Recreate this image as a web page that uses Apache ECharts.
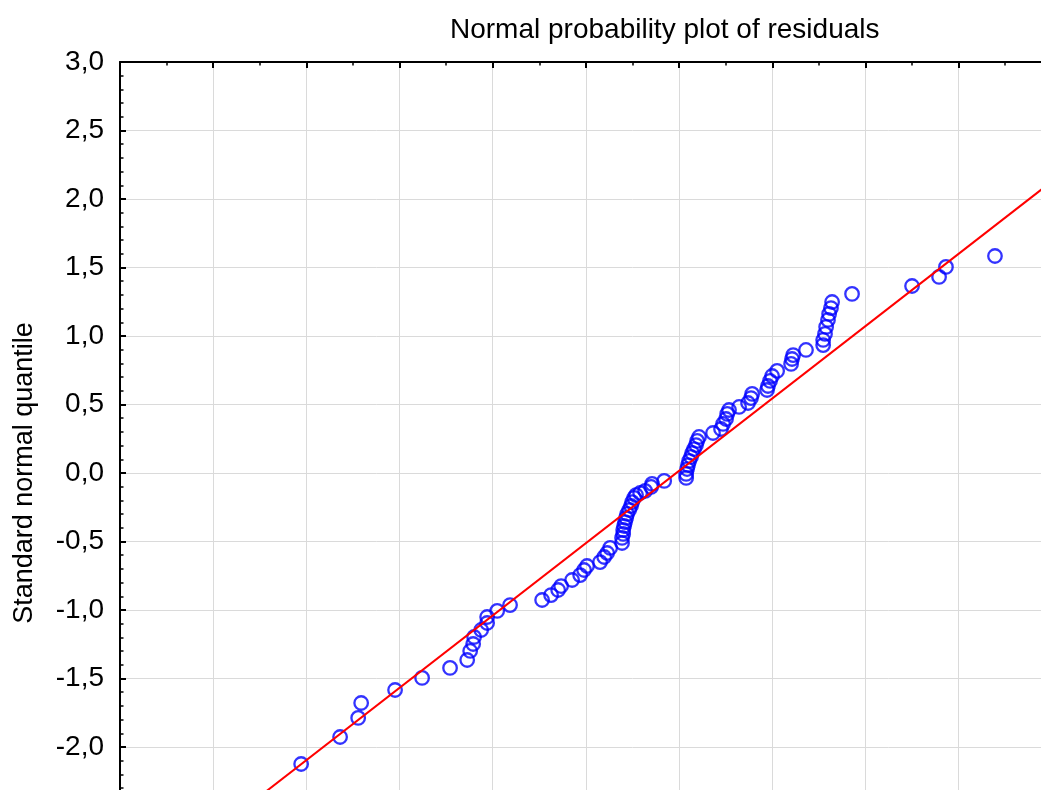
<!DOCTYPE html>
<html>
<head>
<meta charset="utf-8">
<title>Normal probability plot of residuals</title>
<script src="https://cdn.jsdelivr.net/npm/echarts@6/dist/echarts.min.js"></script>
<style>
  html, body { margin: 0; padding: 0; background: #ffffff; overflow: hidden; width: 1041px; height: 790px; }
  /* The plot area runs past the visible window on the right and bottom */
  #chart { width: 1160px; height: 900px; }
</style>
</head>
<body>
<div id="chart"></div>
<script>
// Residuals (x) against their expected standard normal quantiles (y)
const residuals = [
  -2.028, -1.819, -1.722, -1.706, -1.524, -1.379, -1.229, -1.137, -1.121, -1.105,
  -1.100, -1.062, -1.030, -1.030, -0.976, -0.907, -0.735, -0.687, -0.649, -0.633,
  -0.574, -0.531, -0.510, -0.494, -0.424, -0.402, -0.386, -0.370, -0.306, -0.306,
  -0.300, -0.300, -0.295, -0.290, -0.284, -0.279, -0.268, -0.258, -0.252, -0.241,
  -0.231, -0.209, -0.182, -0.150, -0.145, -0.080, 0.038, 0.038, 0.043, 0.048,
  0.054, 0.064, 0.070, 0.080, 0.091, 0.097, 0.107, 0.182, 0.225, 0.236,
  0.252, 0.258, 0.268, 0.322, 0.370, 0.386, 0.392, 0.472, 0.477, 0.488,
  0.499, 0.526, 0.601, 0.606, 0.612, 0.681, 0.773, 0.773, 0.783, 0.789,
  0.799, 0.805, 0.815, 0.821, 0.928, 1.250, 1.395, 1.432, 1.695
];
const normalQuantiles = [
  -2.124, -1.927, -1.788, -1.679, -1.584, -1.496, -1.423, -1.365, -1.299, -1.248,
  -1.197, -1.146, -1.095, -1.051, -1.007, -0.964, -0.927, -0.891, -0.854, -0.825,
  -0.781, -0.745, -0.708, -0.679, -0.650, -0.613, -0.584, -0.547, -0.511, -0.474,
  -0.445, -0.416, -0.387, -0.358, -0.328, -0.299, -0.270, -0.241, -0.212, -0.182,
  -0.161, -0.146, -0.131, -0.102, -0.080, -0.058, -0.036, -0.007, 0.029, 0.058,
  0.088, 0.117, 0.146, 0.175, 0.204, 0.234, 0.263, 0.292, 0.321, 0.358,
  0.394, 0.431, 0.460, 0.482, 0.511, 0.547, 0.577, 0.606, 0.635, 0.672,
  0.708, 0.745, 0.796, 0.832, 0.861, 0.898, 0.934, 0.971, 1.015, 1.066,
  1.117, 1.161, 1.204, 1.248, 1.307, 1.365, 1.431, 1.504, 1.584
];
// Reference line endpoints (residual, quantile)
const fitLineX = [-3.0, 2.5];
const fitLineY = [-3.152, 2.656];

const titleText = 'Normal probability plot of residuals';
const yAxisTitle = 'Standard normal quantile';

const points = residuals.map((x, i) => [x, normalQuantiles[i]]);
const fitLine = fitLineX.map((x, i) => [x, fitLineY[i]]);

const FONT = '"Liberation Sans", Arial, sans-serif';

const chart = echarts.init(document.getElementById('chart'), null, { renderer: 'canvas' });
chart.setOption({
  animation: false,
  backgroundColor: '#ffffff',
  title: {
    text: titleText,
    left: 445,
    top: 11,
    textStyle: { fontFamily: FONT, fontSize: 28, fontWeight: 'normal', color: '#000000' }
  },
  grid: { left: 120, top: 62, width: 1025, height: 822, containLabel: false },
  xAxis: {
    type: 'value',
    position: 'top',
    min: -3.0,
    max: 2.5,
    interval: 0.5,
    axisLine: { show: true, onZero: false, lineStyle: { color: '#000000', width: 2 } },
    axisTick: { show: true, inside: true, length: 6, lineStyle: { color: '#000000', width: 2 } },
    minorTick: { show: true, splitNumber: 2, length: 3.5, lineStyle: { color: '#000000', width: 1.5 } },
    axisLabel: { show: false },
    splitLine: { show: true, lineStyle: { color: '#dadada', width: 1 } }
  },
  yAxis: {
    type: 'value',
    min: -3.0,
    max: 3.0,
    interval: 0.5,
    name: yAxisTitle,
    nameLocation: 'middle',
    nameGap: 82,
    nameTextStyle: { fontFamily: FONT, fontSize: 27, color: '#000000' },
    axisLine: { show: true, onZero: false, lineStyle: { color: '#000000', width: 2 } },
    axisTick: { show: true, inside: true, length: 6, lineStyle: { color: '#000000', width: 2 } },
    minorTick: { show: true, splitNumber: 5, length: 3.5, lineStyle: { color: '#000000', width: 1.5 } },
    axisLabel: {
      margin: 16,
      fontFamily: FONT,
      fontSize: 28,
      color: '#000000',
      formatter: v => v.toFixed(1).replace('.', ',')
    },
    splitLine: { show: true, lineStyle: { color: '#dadada', width: 1 } }
  },
  series: [
    {
      type: 'scatter',
      data: points,
      symbol: 'circle',
      symbolSize: 13.5,
      itemStyle: { color: 'rgba(0,0,0,0)', borderColor: '#0000ff', borderWidth: 2.3 },
      emphasis: { disabled: true },
      z: 2
    },
    {
      type: 'line',
      data: fitLine,
      showSymbol: false,
      symbol: 'none',
      lineStyle: { color: '#ff0000', width: 2 },
      emphasis: { disabled: true },
      z: 3
    }
  ]
});
</script>
</body>
</html>
